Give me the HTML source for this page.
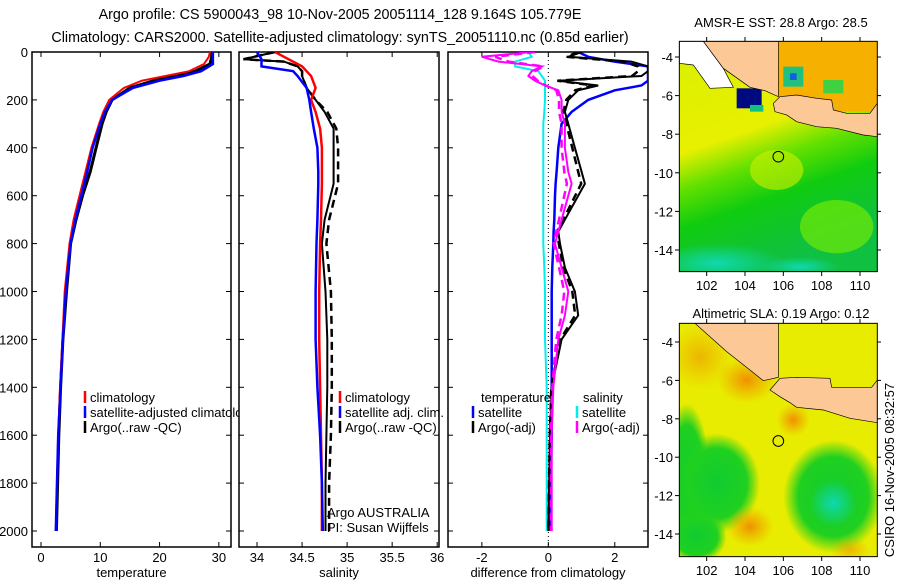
<!DOCTYPE html>
<html><head><meta charset="utf-8"><style>
body{margin:0;background:#fff;}
svg{display:block;font-family:"Liberation Sans",sans-serif;}
text{font-size:13px;fill:#000;}
</style></head><body>
<svg id="fig" width="900" height="580" viewBox="0 0 900 580">
<text x="340" y="19" text-anchor="middle" style="font-size:14.3px">Argo profile: CS 5900043_98 10-Nov-2005 20051114_128 9.164S 105.779E</text>
<text x="340" y="42" text-anchor="middle" style="font-size:14.3px">Climatology: CARS2000. Satellite-adjusted climatology: synTS_20051110.nc (0.85d earlier)</text>

<!-- Map 1 -->
<g>
<text x="781" y="27" text-anchor="middle">AMSR-E SST: 28.8 Argo: 28.5</text>
<defs>
<linearGradient id="m1y" x1="0" y1="0" x2="0.3" y2="1"><stop offset="0" stop-color="#d8f000"/><stop offset="0.45" stop-color="#e8f000"/><stop offset="0.6" stop-color="#60e000"/><stop offset="0.75" stop-color="#10cc10"/><stop offset="1" stop-color="#10c040"/></linearGradient>
<radialGradient id="teal" cx="0.5" cy="0.5" r="0.5"><stop offset="0" stop-color="#10d8b0"/><stop offset="1" stop-color="#10d8b0" stop-opacity="0"/></radialGradient>
<radialGradient id="grn" cx="0.5" cy="0.5" r="0.5"><stop offset="0" stop-color="#10cc30"/><stop offset="0.7" stop-color="#20d020"/><stop offset="1" stop-color="#20d020" stop-opacity="0"/></radialGradient>
<radialGradient id="org" cx="0.5" cy="0.5" r="0.5"><stop offset="0" stop-color="#f09000"/><stop offset="1" stop-color="#f0a000" stop-opacity="0"/></radialGradient>
<radialGradient id="ylw" cx="0.5" cy="0.5" r="0.5"><stop offset="0" stop-color="#e8f000"/><stop offset="1" stop-color="#e8f000" stop-opacity="0"/></radialGradient>
<clipPath id="c1"><rect x="88" y="124" width="594" height="691"/></clipPath>
<clipPath id="c2"><rect x="88" y="100" width="594" height="700"/></clipPath>
</defs>
<g transform="translate(650,0) scale(0.3333)">
<g clip-path="url(#c1)">
<rect x="88" y="124" width="594" height="691" fill="url(#m1y)"/>
<ellipse cx="560" cy="680" rx="110" ry="80" fill="#80f000" opacity="0.6"/>
<ellipse cx="380" cy="510" rx="80" ry="60" fill="#d0f000" opacity="0.6"/>
<ellipse cx="200" cy="790" rx="200" ry="60" fill="url(#teal)"/>
<ellipse cx="450" cy="800" rx="120" ry="30" fill="url(#teal)"/>
<rect x="385" y="124" width="297" height="210" fill="#f5b000"/>
<rect x="400" y="200" width="60" height="60" fill="#20c080"/>
<rect x="420" y="220" width="20" height="20" fill="#1060e0"/>
<rect x="520" y="240" width="60" height="40" fill="#40d040"/>
<rect x="260" y="265" width="75" height="60" fill="#000a80"/>
<rect x="300" y="315" width="40" height="20" fill="#10c080"/>
<polygon points="88,124 160,124 220,205 250,262 180,265 130,195 88,190" fill="#fff" stroke="#000" stroke-width="2"/>
<polygon points="160,124 385,124 385,290 345,272 300,262 220,205" fill="#fcc896" stroke="#000" stroke-width="2"/>
<polygon points="390,290 440,285 500,295 545,300 550,330 590,340 660,340 682,310 682,410 640,405 560,385 500,380 440,365 410,345 375,335 370,310" fill="#fcc896" stroke="#000" stroke-width="2"/>
<circle cx="385" cy="470" r="16" fill="none" stroke="#000" stroke-width="3"/>
</g>
<rect x="88" y="124" width="594" height="691" fill="none" stroke="#000" stroke-width="3"/>
</g>
</g>

<!-- Map 2 -->
<g>
<text x="781" y="318" text-anchor="middle">Altimetric SLA: 0.19 Argo: 0.12</text>
<g transform="translate(650,290) scale(0.3333)">
<g clip-path="url(#c2)">
<rect x="88" y="100" width="594" height="700" fill="#e8ec00"/>
<ellipse cx="110" cy="560" rx="70" ry="220" fill="url(#grn)"/>
<ellipse cx="200" cy="580" rx="130" ry="150" fill="url(#grn)"/>
<ellipse cx="140" cy="740" rx="90" ry="80" fill="url(#grn)"/>
<ellipse cx="550" cy="620" rx="150" ry="170" fill="url(#grn)"/>
<ellipse cx="550" cy="640" rx="70" ry="70" fill="url(#teal)"/>
<ellipse cx="290" cy="270" rx="90" ry="70" fill="url(#org)"/>
<ellipse cx="430" cy="390" rx="50" ry="50" fill="url(#org)"/>
<ellipse cx="300" cy="710" rx="70" ry="60" fill="url(#org)"/>
<ellipse cx="600" cy="780" rx="60" ry="40" fill="url(#org)" opacity="0.6"/>
<ellipse cx="150" cy="200" rx="100" ry="100" fill="url(#org)" opacity="0.6"/>
<polygon points="135,100 385,100 385,262 340,272 300,240 230,185" fill="#fcc896" stroke="#000" stroke-width="2"/>
<polygon points="390,265 440,262 540,265 545,292 665,292 682,270 682,398 600,385 520,360 440,352 420,338 390,320 360,300" fill="#fcc896" stroke="#000" stroke-width="2"/>
<circle cx="385" cy="453" r="16" fill="none" stroke="#000" stroke-width="3"/>
</g>
<rect x="88" y="100" width="594" height="700" fill="none" stroke="#000" stroke-width="3"/>
</g>
</g>
<text transform="translate(894,470) rotate(-90)" text-anchor="middle">CSIRO 16-Nov-2005 08:32:57</text>
<g id="dyn"></g>
</svg>
<script>
// ---- data ----
const tDepth = [0,20,50,80,100,120,150,200,250,300,400,500,600,700,800,1000,1200,1400,1600,1800,2000];
const tClim  = [28.5,28.3,27.5,25,21,17,14,11.5,10.5,9.8,8.5,7.5,6.5,5.5,4.8,4.0,3.6,3.2,2.9,2.7,2.5];
const tSat   = [29,29,29,27,24,20,15.5,12,10.8,10,8.7,7.8,6.8,5.8,5.0,4.2,3.7,3.3,2.9,2.7,2.5];
const tArgo  = [28.8,28.8,28.5,26,23,19,15,12,11,10.3,9.3,8.3,7.0,5.9,5.0,4.3,3.7,3.3,3.0,2.8,2.6];
const sDepth = [0,30,40,60,80,100,150,200,250,320,400,500,550,700,800,1000,1200,1400,1600,1800,2000];
const sClim  = [34.2,34.35,34.4,34.5,34.55,34.6,34.65,34.6,34.65,34.7,34.72,34.72,34.72,34.71,34.7,34.69,34.69,34.7,34.71,34.72,34.72];
const sSat   = [34.0,34.05,34.05,34.05,34.4,34.45,34.55,34.58,34.6,34.63,34.67,34.68,34.68,34.67,34.66,34.65,34.65,34.67,34.7,34.72,34.73];
const sArgo  = [34.2,33.85,34.3,34.45,34.5,34.5,34.55,34.65,34.75,34.85,34.85,34.85,34.85,34.75,34.72,34.76,34.78,34.78,34.77,34.76,34.76];
const sArgoRaw=[34.2,33.85,34.3,34.45,34.5,34.5,34.55,34.65,34.78,34.88,34.9,34.9,34.9,34.8,34.77,34.82,34.83,34.83,34.82,34.8,34.8];
const dDepth = [0,20,40,60,80,100,120,140,160,200,250,300,400,500,550,600,700,750,800,900,1000,1100,1200,1400,1600,2000];
const dTsat  = [0.9,1.2,2.0,3.0,3.0,3.0,3.0,2.8,2.0,1.2,0.7,0.4,0.3,0.25,0.22,0.2,0.18,0.16,0.15,0.12,0.1,0.1,0.1,0.1,0.1,0.05];
const dTargo = [1.0,0.6,2.5,3.0,3.0,2.8,0.3,1.5,0.9,0.6,0.5,0.6,0.8,1.0,1.1,0.9,0.5,0.3,0.35,0.5,0.8,0.9,0.4,0.1,0.05,0.0];
const dSsat  = [-0.6,-0.5,-1.0,-1.0,-0.3,-0.2,-0.1,-0.1,-0.1,-0.1,-0.12,-0.15,-0.15,-0.15,-0.15,-0.15,-0.15,-0.15,-0.15,-0.12,-0.1,-0.1,-0.1,-0.05,-0.05,-0.05];
const dSargo = [-0.5,-2.0,-1.5,-0.2,-0.5,-0.6,-0.4,-0.1,0.3,0.4,0.4,0.5,0.5,0.6,0.7,0.6,0.4,0.3,0.2,0.4,0.6,0.5,0.3,0.15,0.1,0.1];
const yTicks = [0,200,400,600,800,1000,1200,1400,1600,1800,2000];
const tTicks = [0,10,20,30];
const sTicks = [34,34.5,35,35.5,36];
const dTicks = [-2,0,2];

const NS='http://www.w3.org/2000/svg';
const dyn=document.getElementById('dyn');
function mk(tag,attrs,parent){const e=document.createElementNS(NS,tag);for(const k in attrs)e.setAttribute(k,attrs[k]);(parent||dyn).appendChild(e);return e;}
const top0=52, pxPerM=0.2395;
function yS(d){return top0+d*pxPerM;}
const panels=[
 {x0:32,x1:231,vmin:-1.52,vmax:32.05,ticks:tTicks,label:'temperature',name:'temperature-panel'},
 {x0:239,x1:439,vmin:33.8,vmax:36.02,ticks:sTicks,label:'salinity',name:'salinity-panel'},
 {x0:448,x1:648,vmin:-3.02,vmax:3.0,ticks:dTicks,label:'difference from climatology',name:'difference-panel'}];
const bottom=547;
function xf(p){return v=>p.x0+(v-p.vmin)/(p.vmax-p.vmin)*(p.x1-p.x0);}
panels.forEach((p,i)=>{
 const g=mk('g',{});
 
 
 p.g=g;
 const r=mk('rect',{x:p.x0,y:top0,width:p.x1-p.x0,height:bottom-top0,fill:'#fff',stroke:'#000','stroke-width':1.5},g);
 
 
 const X=xf(p);
 p.ticks.forEach(t=>{const x=X(t);
  mk('line',{x1:x,x2:x,y1:top0,y2:top0+5,stroke:'#000'},g);
  mk('line',{x1:x,x2:x,y1:bottom,y2:bottom-5,stroke:'#000'},g);
  const tx=mk('text',{x:x,y:bottom+15,'text-anchor':'middle'},g);tx.textContent=String(t);
  
  
 });
 yTicks.forEach(t=>{const y=yS(t);
  mk('line',{x1:p.x0,x2:p.x0+5,y1:y,y2:y,stroke:'#000'},g);
  mk('line',{x1:p.x1,x2:p.x1-5,y1:y,y2:y,stroke:'#000'},g);
  if(i===0){const tx=mk('text',{x:28,y:y+5,'text-anchor':'end'},g);tx.textContent=String(t);
   
   }
 });
 const lb=mk('text',{x:(p.x0+p.x1)/2,y:bottom+30,'text-anchor':'middle'},g);lb.textContent=p.label;
 
 
});
function series(p,depths,vals,color,w,dash,name){
 const X=xf(p);
 const d=depths.map((dd,k)=>(k?'L':'M')+X(vals[k]).toFixed(1)+','+yS(dd).toFixed(1)).join('');
 const cp='cp'+p.name;
 if(!document.getElementById(cp)){const c=mk('clipPath',{id:cp},p.g);mk('rect',{x:p.x0,y:top0,width:p.x1-p.x0,height:bottom-top0},c);}
 const e=mk('path',{d:d,fill:'none',stroke:color,'stroke-width':w,'clip-path':'url(#'+cp+')'},p.g);
 if(dash)e.setAttribute('stroke-dasharray',dash);
 
 
}
const [P1,P2,P3]=panels;
series(P1,tDepth,tArgo,'#000',3,null,'temp-argo-line');
series(P1,tDepth,tClim,'#f00',2,null,'temp-climatology-line');
series(P1,tDepth,tSat,'#00f',2.5,null,'temp-satellite-line');
series(P2,sDepth,sArgoRaw,'#000',2.5,'8,5','sal-argo-raw-line');
series(P2,sDepth,sArgo,'#000',2,null,'sal-argo-line');
series(P2,sDepth,sClim,'#f00',2.5,null,'sal-climatology-line');
series(P2,sDepth,sSat,'#00f',2.5,null,'sal-satellite-line');
const X3=xf(P3);
const zl=mk('line',{x1:X3(0),x2:X3(0),y1:top0,y2:bottom,stroke:'#000','stroke-dasharray':'1,3'},P3.g);


series(P3,dDepth,dSsat,'#0ee',2,null,'diff-sal-satellite-line');
series(P3,dDepth,dTsat,'#00f',2.5,null,'diff-temp-satellite-line');
series(P3,dDepth,dTargo,'#000',2,null,'diff-temp-argo-line');
series(P3,dDepth,dTargo.map(v=>v*0.9),'#000',2.5,'8,5','diff-temp-argo-adj-line');
series(P3,dDepth,dSargo,'#f0f',2,null,'diff-sal-argo-line');
series(P3,dDepth,dSargo.map(v=>v*0.8),'#f0f',2.5,'8,5','diff-sal-argo-adj-line');
function legend(g,x,y,color,label,name){
 const l=mk('line',{x1:x,x2:x,y1:y-7,y2:y+5,stroke:color,'stroke-width':2.5},g);
 const t=mk('text',{x:x+5,y:y+4},g);t.textContent=label;
 
 
 
 
}
legend(P1.g,85,398,'#f00','climatology','legend-climatology');
legend(P1.g,85,413,'#00f','satellite-adjusted climatology','legend-satellite-adjusted');
legend(P1.g,85,428,'#000','Argo(..raw -QC)','legend-argo');
legend(P2.g,340,398,'#f00','climatology','legend-sal-climatology');
legend(P2.g,340,413,'#00f','satellite adj. clim.','legend-sal-satellite');
legend(P2.g,340,428,'#000','Argo(..raw -QC)','legend-sal-argo');
const tt=mk('text',{x:481,y:402},P3.g);tt.textContent='temperature';


const st=mk('text',{x:583,y:402},P3.g);st.textContent='salinity';


legend(P3.g,473,413,'#00f','satellite','legend-diff-temp-satellite');
legend(P3.g,473,428,'#000','Argo(-adj)','legend-diff-temp-argo');
legend(P3.g,577,413,'#0ee','satellite','legend-diff-sal-satellite');
legend(P3.g,577,428,'#f0f','Argo(-adj)','legend-diff-sal-argo');
const a1=mk('text',{x:327,y:517},P2.g);a1.textContent='Argo AUSTRALIA';


const a2=mk('text',{x:327,y:532},P2.g);a2.textContent='PI: Susan Wijffels';


function mapAxes(x0,x1,yTop,yBot,lat4,lat14){
 const g=mk('g',{});
 
 
 const lonX=l=>650+(170+(l-102)*57.5)/3;
 [102,104,106,108,110].forEach(l=>{const x=lonX(l);
  mk('line',{x1:x,x2:x,y1:yTop,y2:yTop-4,stroke:'#000'},g);
  mk('line',{x1:x,x2:x,y1:yBot,y2:yBot+4,stroke:'#000'},g);
  const t=mk('text',{x:x,y:yBot+18,'text-anchor':'middle'},g);t.textContent=String(l);});
 [-4,-6,-8,-10,-12,-14].forEach(la=>{const y=lat4+(la+4)/(-10)*(lat14-lat4);
  mk('line',{x1:x0,x2:x0-4,y1:y,y2:y,stroke:'#000'},g);
  mk('line',{x1:x1,x2:x1+4,y1:y,y2:y,stroke:'#000'},g);
  const t=mk('text',{x:x0-6,y:y+5,'text-anchor':'end'},g);t.textContent=String(la);});
}
mapAxes(679,877,41,272,57,250);
mapAxes(679,877,323,557,342,534);
</script>
</body></html>
